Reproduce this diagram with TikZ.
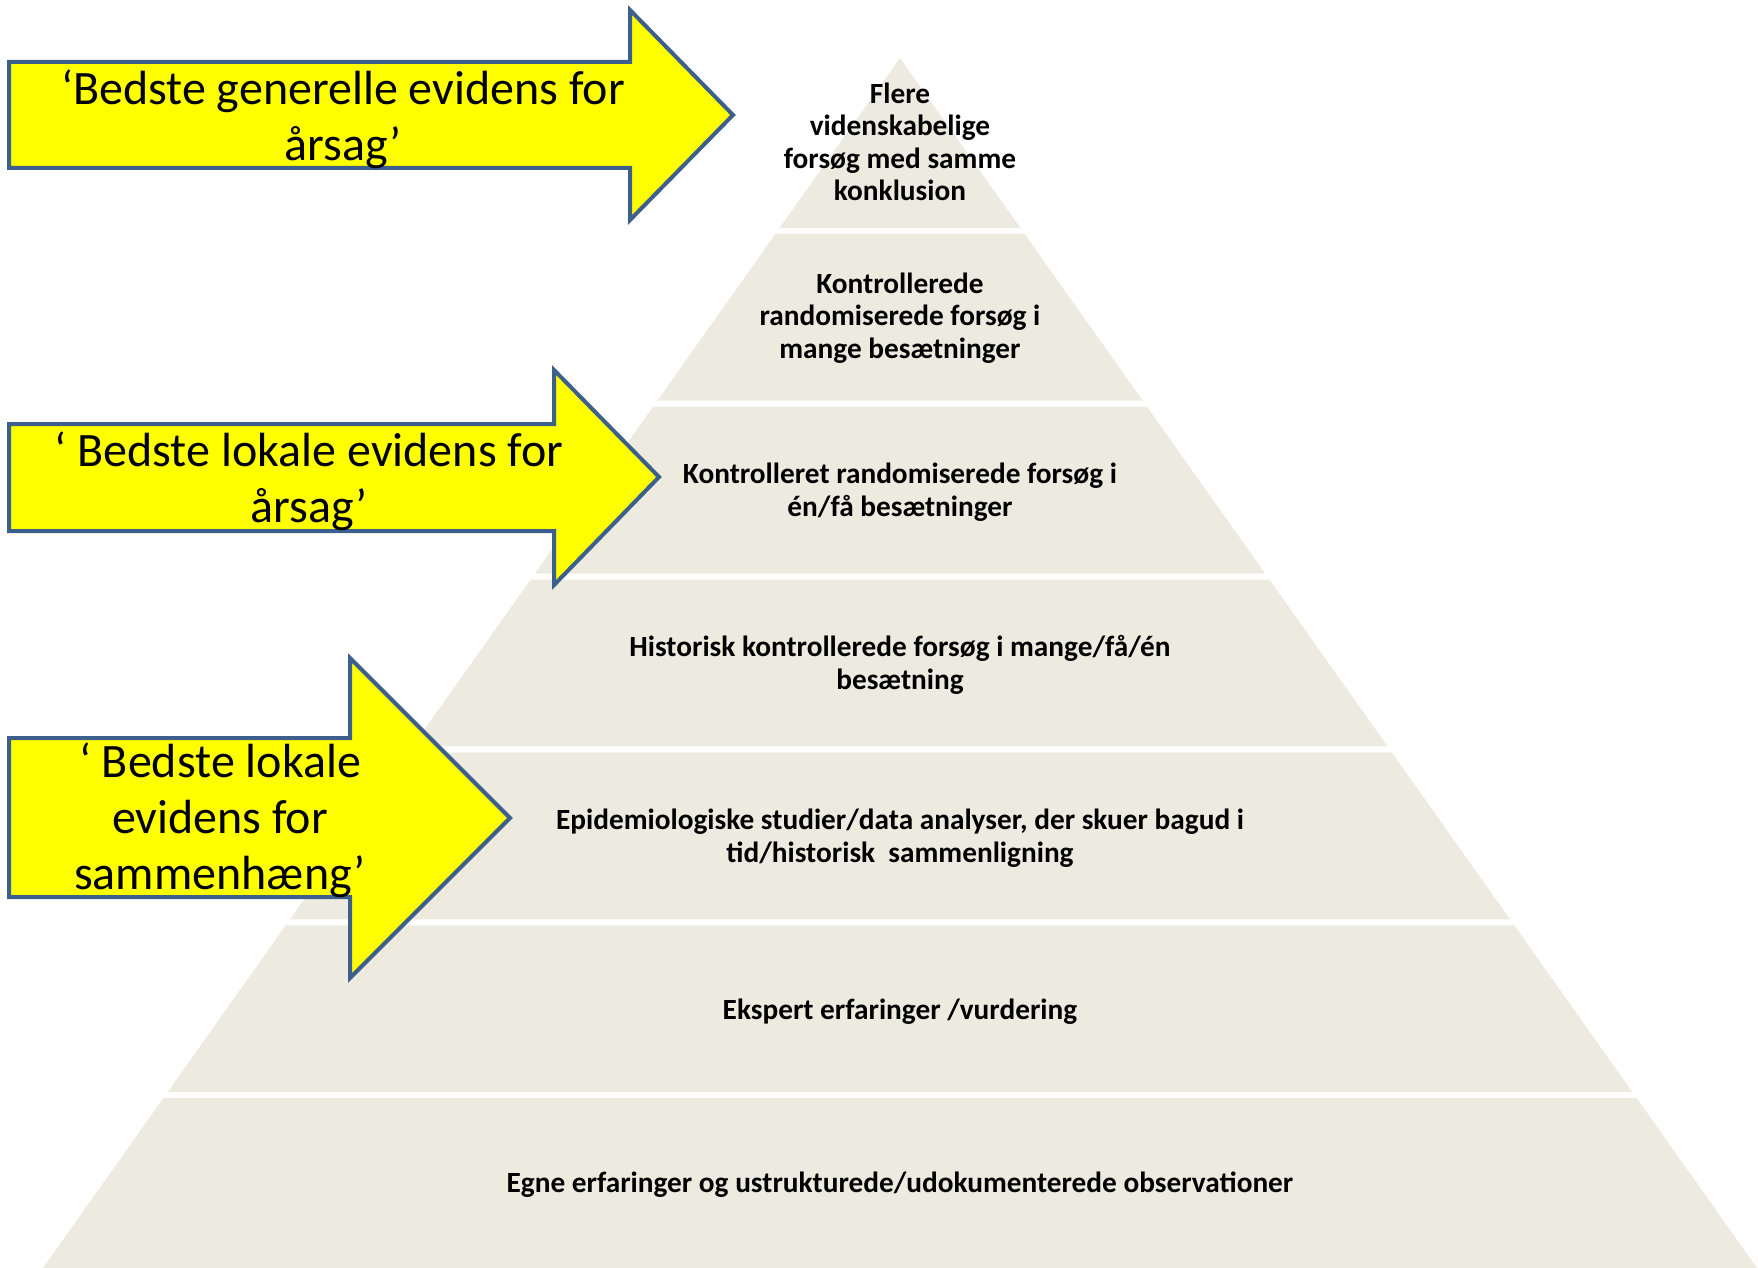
\documentclass[tikz,border=0pt]{standalone}
\usepackage{fontspec}
\setmainfont{Carlito}
\definecolor{pyr}{RGB}{237,235,224}
\definecolor{arrowedge}{HTML}{3C5F8C}
\definecolor{arrowfill}{RGB}{255,255,0}
\begin{document}
\begin{tikzpicture}[x=1pt,y=-1pt,
  band/.style={fill=pyr},
  bigarrow/.style={fill=arrowfill, draw=arrowedge, line width=4pt, line join=miter},
  arrowtext/.style={font=\fontsize{48}{56}\selectfont, align=center, inner sep=0pt},
  bandtext/.style={font=\fontsize{29.3}{32.5}\selectfont\bfseries, align=center, inner sep=0pt}]
\useasboundingbox (0,0) rectangle (1758,1268);
% pyramid bands
\foreach \k in {0,...,6} {
  \pgfmathsetmacro\ya{58+172.857*\k + (\k>0 ? 3 : 0)}
  \pgfmathsetmacro\yb{58+172.857*(\k+1) - (\k<6 ? 3 : 0)}
  \pgfmathsetmacro\wa{0.70826*(\ya-58)}
  \pgfmathsetmacro\wb{0.70826*(\yb-58)}
  \fill[band] (900-\wa,\ya) -- (900+\wa,\ya) -- (900+\wb,\yb) -- (900-\wb,\yb) -- cycle;
}
% band texts
\node[bandtext] (b1) at (900,142) {Flere\\videnskabelige\\forsøg med samme\\konklusion};
\node[bandtext] (b2) at (900,318) {Kontrollerede\\randomiserede forsøg i\\mange besætninger};
\node[bandtext] (b3) at (900,492) {Kontrolleret randomiserede forsøg i\\én/få besætninger};
\node[bandtext] (b4) at (900,665) {Historisk kontrollerede forsøg i mange/få/én\\besætning};
\node[bandtext] (b5) at (900,838) {Epidemiologiske studier/data analyser, der skuer bagud i\\tid/historisk\ \ sammenligning};
\node[bandtext] (b6) at (900,1012) {Ekspert erfaringer /vurdering};
\node[bandtext] (b7) at (900,1185) {Egne erfaringer og ustrukturede/udokumenterede observationer};
% arrows
\draw[bigarrow] (9,62) -- (630,62) -- (630,10) -- (733,115) -- (630,220) -- (630,168) -- (9,168) -- cycle;
\node[arrowtext] (t1) at (343,119) {‘Bedste generelle evidens for\\årsag’};
\draw[bigarrow] (9,424) -- (554,424) -- (554,370) -- (659,477) -- (554,585) -- (554,531) -- (9,531) -- cycle;
\node[arrowtext] (t2) at (309,481) {‘ Bedste lokale evidens for\\årsag’};
\draw[bigarrow] (9,738) -- (350,738) -- (350,658) -- (510,818) -- (350,978) -- (350,897) -- (9,897) -- cycle;
\node[arrowtext] (t3) at (220,820) {‘ Bedste lokale\\evidens for\\sammenhæng’};
\end{tikzpicture}
\end{document}
